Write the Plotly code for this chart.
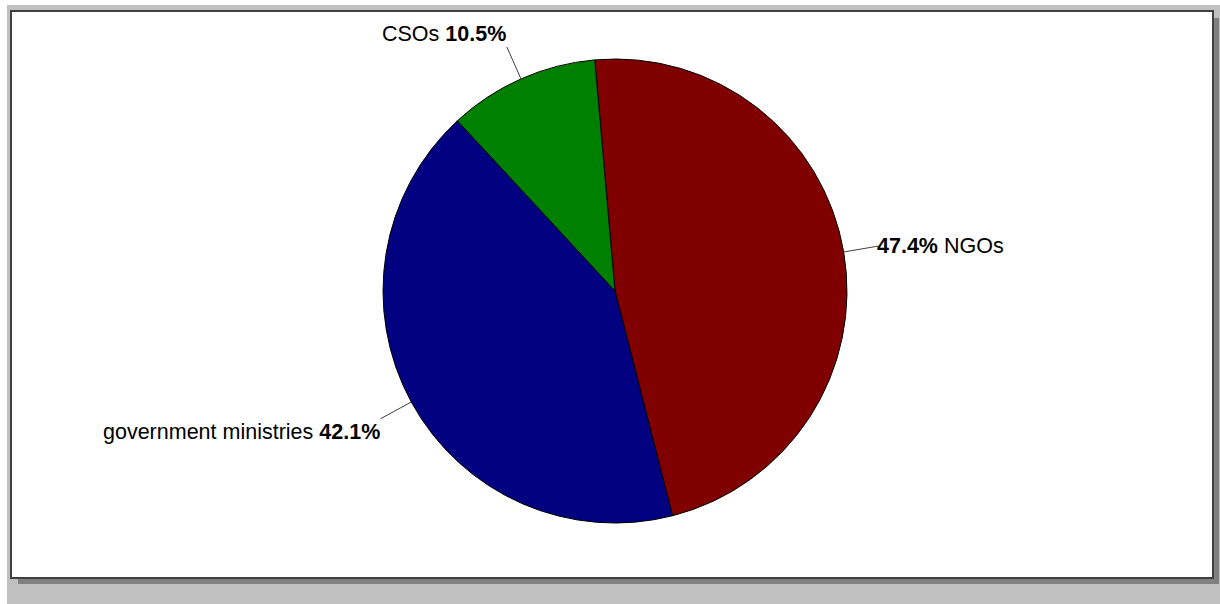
import math
import plotly.graph_objects as go

# ---- data ----
labels = ["NGOs", "government ministries", "CSOs"]
values = [47.4, 42.1, 10.5]
colors = ["#800000", "#000080", "#008000"]

W, H = 1220, 604
CX, CY, R = 615, 291, 232
ROT = -5  # start angle (degrees, clockwise from top)

def px(x):
    return x / W

def py(y):
    return 1 - y / H

fig = go.Figure()
fig.add_trace(go.Pie(
    labels=labels, values=values, sort=False, direction="clockwise",
    rotation=ROT, marker=dict(colors=colors, line=dict(color="#000000", width=1)),
    textinfo="none", hoverinfo="skip", showlegend=False,
    domain=dict(x=[px(CX - R), px(CX + R)], y=[py(CY + R), py(CY - R)]),
))

shapes = [
    dict(type="rect", xref="paper", yref="paper", x0=px(7), x1=px(1220), y0=py(604), y1=py(5),
         fillcolor="#c0c0c0", line=dict(width=0), layer="below"),
    dict(type="rect", xref="paper", yref="paper", x0=px(18), x1=px(1219), y0=py(584), y1=py(18),
         fillcolor="#808080", line=dict(width=0), layer="below"),
    dict(type="rect", xref="paper", yref="paper", x0=px(11), x1=px(1213), y0=py(578), y1=py(11),
         fillcolor="#ffffff", line=dict(color="#404040", width=2), layer="below"),
]

annotations = []
total = sum(values)
cum = 0.0
for lab, v in zip(labels, values):
    pct = 100 * v / total
    mid = ROT + 360 * (cum + v / 2) / total
    cum += v
    a = math.radians(mid)
    x1, y1 = CX + R * math.sin(a), CY - R * math.cos(a)
    x2, y2 = CX + (R + 35) * math.sin(a), CY - (R + 35) * math.cos(a)
    shapes.append(dict(type="line", xref="paper", yref="paper", x0=px(x1), y0=py(y1),
                       x1=px(x2), y1=py(y2), line=dict(color="#404040", width=1)))
    right = math.sin(a) > 0
    if right:
        text = f"<b>{pct:.1f}%</b> {lab}"
        xa = "left"
        xs = -2
    else:
        text = f"{lab} <b>{pct:.1f}%</b>"
        xa = "right"
        xs = 0
    c = math.cos(a)
    if c > 0.5:
        ya = "bottom"
    elif c < -0.3:
        ya = "top"
    else:
        ya = "middle"
    annotations.append(dict(x=px(x2), y=py(y2), xref="paper", yref="paper", text=text,
                            showarrow=False, xanchor=xa, yanchor=ya, borderpad=0, xshift=xs,
                            font=dict(family="Liberation Sans, Arial, sans-serif", size=21.5, color="#000000")))

fig.update_layout(
    width=W, height=H, margin=dict(l=0, r=0, t=0, b=0),
    paper_bgcolor="#ffffff", plot_bgcolor="#ffffff",
    shapes=shapes, annotations=annotations,
)

fig.write_html("out.html")
